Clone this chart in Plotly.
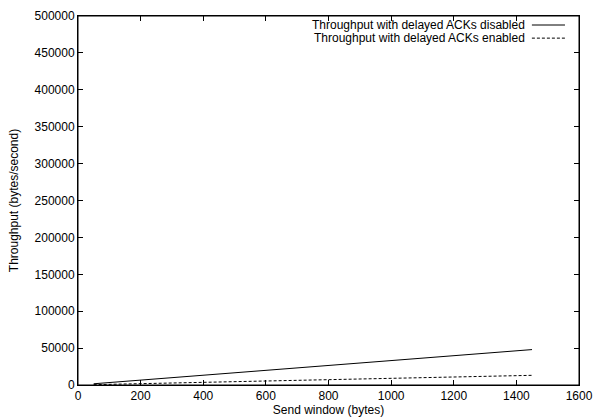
import plotly.graph_objects as go

send_window = [50, 150, 250, 350, 450, 550, 650, 750, 850, 950, 1050, 1150, 1250, 1350, 1450]
tput_disabled = [1650, 4950, 8250, 11600, 14900, 18200, 21500, 24800, 28100, 31400, 34700, 38000, 41300, 44700, 48000]
tput_enabled = [450, 1350, 2250, 3150, 4050, 4950, 5850, 6750, 7650, 8600, 9500, 10400, 11300, 12200, 13100]
series_names = ["Throughput with delayed ACKs disabled", "Throughput with delayed ACKs enabled"]
x_ticks = [0, 200, 400, 600, 800, 1000, 1200, 1400, 1600]
y_ticks = [0, 50000, 100000, 150000, 200000, 250000, 300000, 350000, 400000, 450000, 500000]

FONT = "Liberation Sans, Arial, Helvetica, sans-serif"
FS = 12
DASH = "3px,2px"

fig = go.Figure()
fig.add_trace(go.Scatter(x=send_window, y=tput_disabled, mode="lines",
                         line=dict(color="black", width=1), name=series_names[0], showlegend=False))
fig.add_trace(go.Scatter(x=send_window, y=tput_enabled, mode="lines",
                         line=dict(color="black", width=1, dash=DASH), name=series_names[1], showlegend=False))

# gnuplot-style legend: text right-aligned, sample line to the right
rows = [(0.9756, "solid"), (0.940, DASH)]
for (yy, dash), name in zip(rows, series_names):
    fig.add_annotation(x=0.897, y=yy, xref="paper", yref="paper", text=name, showarrow=False,
                       xanchor="right", yanchor="middle", font=dict(family=FONT, size=FS, color="black"))
    fig.add_shape(type="line", xref="paper", yref="paper", x0=0.906, x1=0.972, y0=yy, y1=yy,
                  line=dict(color="black", width=1, dash=dash))

# full frame around the plotting area
fig.add_shape(type="rect", xref="paper", yref="paper", x0=0, x1=1, y0=0, y1=1,
              line=dict(color="black", width=1), layer="above")

axis_common = dict(showgrid=False, zeroline=False, showline=True, linecolor="black", linewidth=1,
                   mirror="ticks", ticks="inside", ticklen=5, tickcolor="black", tickwidth=1,
                   automargin=False, tickfont=dict(family=FONT, size=FS, color="black"))

fig.update_xaxes(range=[0, 1600], tickvals=x_ticks, ticktext=[str(v) for v in x_ticks],
                 title=dict(text="Send window (bytes)", font=dict(family=FONT, size=FS, color="black"), standoff=0),
                 **axis_common)
fig.update_yaxes(range=[0, 500000], tickvals=y_ticks, ticktext=[str(v) for v in y_ticks],
                 title=dict(text="Throughput (bytes/second)", font=dict(family=FONT, size=FS, color="black"), standoff=13),
                 **axis_common)

fig.update_layout(width=594, height=419, margin=dict(l=78, r=15, t=16, b=34),
                  paper_bgcolor="white", plot_bgcolor="white",
                  font=dict(family=FONT, size=FS, color="black"))

fig.write_html("out.html", config={"displayModeBar": False},
               post_script="document.body.style.margin='0px';document.body.style.overflow='hidden';")
